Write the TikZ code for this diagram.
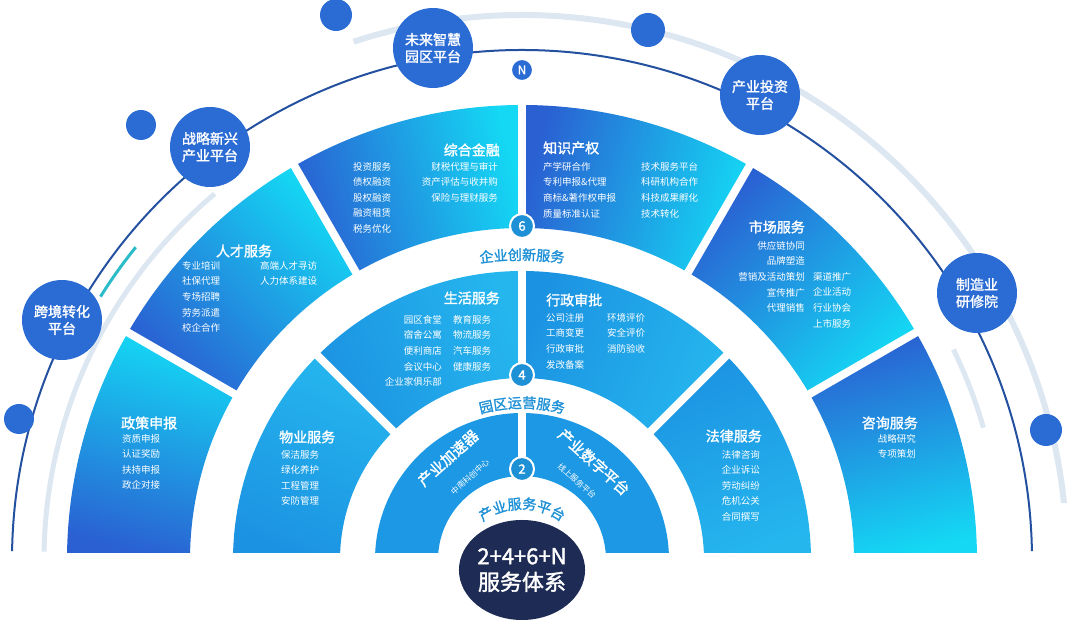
\documentclass[tikz,border=0pt]{standalone}
\usepackage{fontspec}
\setmainfont[AutoFakeBold=1.6]{Noto Sans CJK SC}
\usepackage{tikz}
\usetikzlibrary{positioning,calc,decorations.text,shapes.geometric}

\definecolor{segblue}{HTML}{2A60D2}
\definecolor{segcyan}{HTML}{14D8F4}
\definecolor{midblue}{HTML}{1C93E2}
\definecolor{midcyan}{HTML}{25B6EE}
\definecolor{platblue}{HTML}{2B6CD4}
\definecolor{linedark}{HTML}{2450A0}
\definecolor{lightarc}{HTML}{DCE7F2}
\definecolor{lblblue}{HTML}{1E90D6}
\definecolor{coreblue}{HTML}{1D2B55}
\definecolor{tealarc}{HTML}{2BBBC9}

\tikzset{
  gap/.style={white, line width=8pt},
  title/.style={text=white, font=\fontsize{14}{16}\selectfont\bfseries, inner sep=0pt},
  item/.style={text=white, font=\fontsize{9.5}{15.6}\selectfont, inner sep=0pt},
  plat/.style={circle, fill=platblue, minimum size=80pt, text=white, align=center,
    font=\fontsize{14}{17}\selectfont\bfseries, inner sep=0pt},
  dot/.style={circle, fill=platblue, inner sep=0pt},
  num/.style={circle, fill=lblblue, draw=white, line width=2pt, minimum size=24pt,
    text=white, font=\fontsize{13}{13}\selectfont\bfseries, inner sep=0pt},
  arclabel/.style={decorate, decoration={text along path, text align=center,
    text={|\fontsize{14}{14}\selectfont\bfseries\color{lblblue}|#1}}}
}

\newcommand\ringseg[5]{%
  \path[#5] (#1:#3) arc[start angle=#1, end angle=#2, radius=#3]
    -- (#2:#4) arc[start angle=#2, end angle=#1, radius=#4] -- cycle;}

\begin{document}
\begin{tikzpicture}[x=1pt, y=1pt]
\useasboundingbox (0,0) rectangle (1080,639);

% outer arcs
\begin{scope}[shift={(522,79)}]
\clip (-600,7) rectangle (600,600);
\draw[lightarc, line width=6pt] (108:545) arc[start angle=108, end angle=6, radius=545];
\draw[lightarc, line width=5pt] (179:478) arc[start angle=179, end angle=130, radius=478];
\draw[lightarc, line width=5pt] (26:480) arc[start angle=26, end angle=16, radius=480];
\draw[linedark, line width=2pt] (179:510) arc[start angle=179, end angle=1, radius=510];
\draw[tealarc, line width=3pt] (141:497) arc[start angle=141, end angle=148, radius=497];

% ring 3
\ringseg{0}{30}{332}{455}{left color=segblue, right color=segcyan, shading angle=15}
\ringseg{30}{60}{332}{455}{left color=segblue, right color=segcyan, shading angle=45}
\ringseg{60}{90}{332}{455}{left color=segblue, right color=segcyan, shading angle=75}
\ringseg{90}{120}{332}{455}{left color=segblue, right color=segcyan, shading angle=105}
\ringseg{120}{150}{332}{455}{left color=segblue, right color=segcyan, shading angle=135}
\ringseg{150}{180}{332}{455}{left color=segblue, right color=segcyan, shading angle=165}
% ring 2
\ringseg{0}{45}{182}{289}{left color=midblue, right color=midcyan, shading angle=22}
\ringseg{45}{90}{182}{289}{left color=midblue, right color=midcyan, shading angle=67}
\ringseg{90}{135}{182}{289}{left color=midblue, right color=midcyan, shading angle=112}
\ringseg{135}{180}{182}{289}{left color=midblue, right color=midcyan, shading angle=157}
% ring 1
\ringseg{0}{180}{84}{147}{fill=midblue!85!midcyan}

\foreach \a in {30,60,...,150} \draw[gap] (\a:325) -- (\a:462);
\foreach \a in {45,90,135} \draw[gap] (\a:175) -- (\a:295);
\draw[gap] (90:78) -- (90:152);
\end{scope}

% curved ring labels
\path[arclabel=企业创新服务] ($(522,79)+(101:300)$) arc[start angle=101, end angle=79, radius=300];
\path[arclabel=园区运营服务] ($(522,79)+(118:152)$) arc[start angle=118, end angle=62, radius=152];
\path[arclabel=产业服务平台] ($(522,64)+(135:66)$) arc[start angle=135, end angle=45, radius=66];

% number badges
\node[num] (n6) at (522,413) {6};
\node[num] (n4) at (522,264) {4};
\node[num] (n2) at (522,170) {2};
\node[num, minimum size=22pt, fill=platblue, font=\fontsize{12}{12}\selectfont\bfseries] (nN) at (522,569) {N};

% core
\node[ellipse, fill=coreblue, minimum width=116pt, minimum height=100pt, text=white, align=center,
  font=\fontsize{22}{26}\selectfont\bfseries, inner sep=0pt] (core) at (522,69) {2+4+6+N\\服务体系};

% platforms
\node[plat] (wlzh) at (433,591) {未来智慧\\园区平台};
\node[plat] (zlxx) at (210,492) {战略新兴\\产业平台};
\node[plat] (kjzh) at (62,319) {跨境转化\\平台};
\node[plat] (cytz) at (760,544) {产业投资\\平台};
\node[plat] (zzyy) at (977,346) {制造业\\研修院};
\node[dot, minimum size=30pt] (d1) at (19,220) {};
\node[dot, minimum size=30pt] (d2) at (141,514) {};
\node[dot, minimum size=32pt] (d3) at (336,624) {};
\node[dot, minimum size=34pt] (d4) at (648,609) {};
\node[dot, minimum size=32pt] (d5) at (1046,209) {};

% ring 3 texts
\node[title, anchor=west] (zcsb) at (121,216) {政策申报};
\node[item, anchor=north west, align=left] (zcsbi) at (122,205) {资质申报\\认证奖励\\扶持申报\\政企对接};
\node[title] (rcfw) at (244,388) {人才服务};
\node[item, anchor=north west, align=left] (rcfw1) at (182,378) {专业培训\\社保代理\\专场招聘\\劳务派遣\\校企合作};
\node[item, anchor=north west, align=left] (rcfw2) at (260,378) {高端人才寻访\\人力体系建设};
\node[title, anchor=east] (zhjr) at (500,489) {综合金融};
\node[item, anchor=north west, align=left] (zhjr1) at (353,477) {投资服务\\债权融资\\股权融资\\融资租赁\\税务优化};
\node[item, anchor=north east, align=right] (zhjr2) at (498,477) {财税代理与审计\\资产评估与收并购\\保险与理财服务};
\node[title, anchor=west] (zscq) at (543,491) {知识产权};
\node[item, anchor=north west, align=left] (zscq1) at (543,477) {产学研合作\\专利申报\&代理\\商标\&著作权申报\\质量标准认证};
\node[item, anchor=north west, align=left] (zscq2) at (641,477) {技术服务平台\\科研机构合作\\科技成果孵化\\技术转化};
\node[title, anchor=east] (scfw) at (805,412) {市场服务};
\node[item, anchor=north east, align=right] (scfw1) at (805,398) {供应链协同\\品牌塑造\\营销及活动策划\\宣传推广\\代理销售};
\node[item, anchor=north west, align=left] (scfw2) at (813,367) {渠道推广\\企业活动\\行业协会\\上市服务};
\node[title, anchor=east] (zxfw) at (918,216) {咨询服务};
\node[item, anchor=north east, align=right] (zxfwi) at (916,205) {战略研究\\专项策划};

% ring 2 texts
\node[title, anchor=west] (wyfw) at (279,202) {物业服务};
\node[item, anchor=north west, align=left] (wyfwi) at (281,189) {保洁服务\\绿化养护\\工程管理\\安防管理};
\node[title, anchor=east] (shfw) at (500,341) {生活服务};
\node[item, anchor=north east, align=right] (shfw1) at (442,324) {园区食堂\\宿舍公寓\\便利商店\\会议中心\\企业家俱乐部};
\node[item, anchor=north west, align=left] (shfw2) at (453,324) {教育服务\\物流服务\\汽车服务\\健康服务};
\node[title, anchor=west] (xzsp) at (546,339) {行政审批};
\node[item, anchor=north west, align=left] (xzsp1) at (546,326) {公司注册\\工商变更\\行政审批\\发改备案};
\node[item, anchor=north west, align=left] (xzsp2) at (607,326) {环境评价\\安全评价\\消防验收};
\node[title, anchor=east] (flfw) at (762,203) {法律服务};
\node[item, anchor=north east, align=right] (flfwi) at (760,189) {法律咨询\\企业诉讼\\劳动纠纷\\危机公关\\合同撰写};

% ring 1 texts
\node[title, rotate=42, font=\fontsize{15}{17}\selectfont\bfseries] (cyjs) at (448,181) {产业加速器};
\node[item, rotate=42, font=\fontsize{8}{9}\selectfont] (cyjss) at (470,162) {中南科创中心};
\node[title, rotate=-42, font=\fontsize{15}{17}\selectfont\bfseries] (cysz) at (594,177) {产业数字平台};
\node[item, rotate=-42, font=\fontsize{8}{9}\selectfont] (cyszs) at (577,158) {线上服务平台};
\end{tikzpicture}
\end{document}
